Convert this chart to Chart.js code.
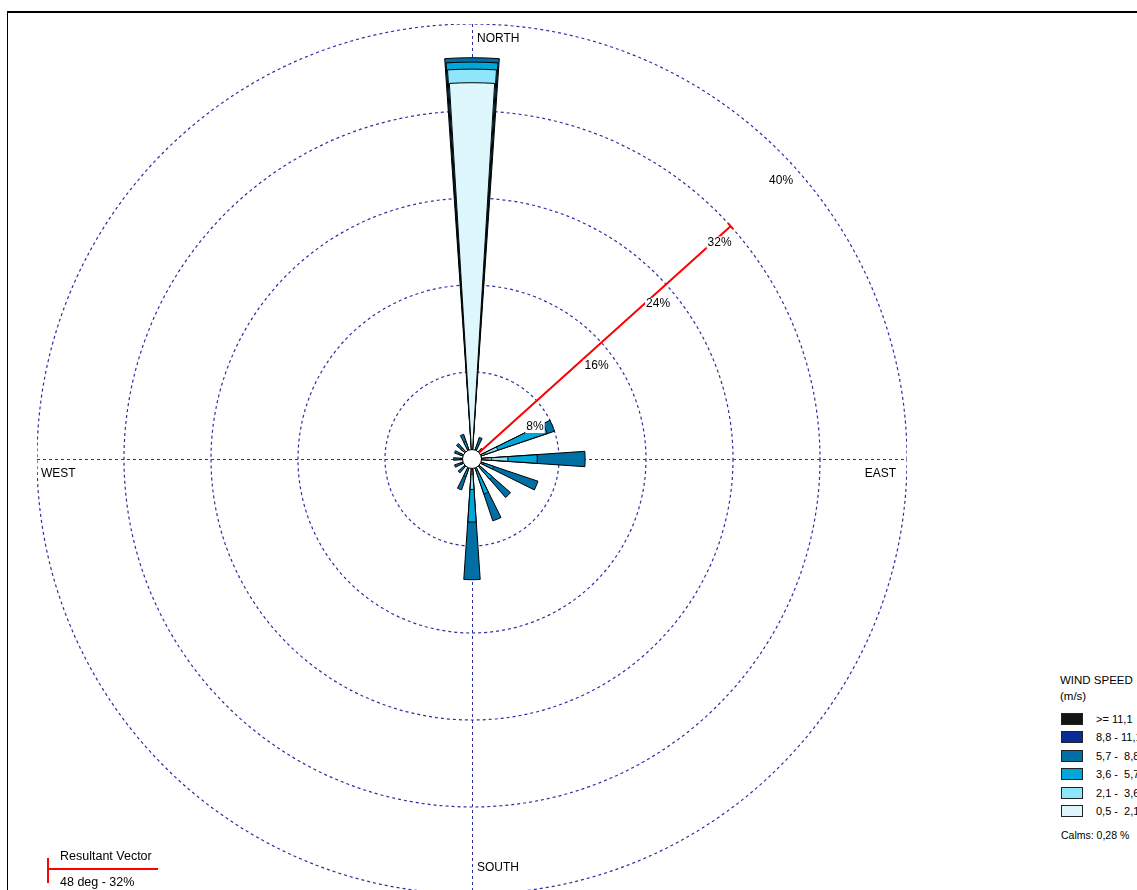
<!DOCTYPE html>
<html>
<head>
<meta charset="utf-8">
<title>Wind Rose</title>
<script src="https://cdn.jsdelivr.net/npm/chart.js"></script>
<style>
  html, body { margin: 0; padding: 0; }
  body { width: 1137px; height: 890px; overflow: hidden; background: #ffffff; position: relative;
         font-family: "Liberation Sans", Arial, sans-serif; color: #000; }
  .frame-top { position: absolute; left: 7px; top: 11px; width: 1130px; height: 2px; background: #000; }
  .frame-left { position: absolute; left: 7px; top: 11px; width: 1px; height: 879px; background: #000; }
  .rose-box { position: absolute; left: 37px; top: 24px; width: 870px; height: 870px; }
  .legend { position: absolute; left: 1060px; top: 673px; width: 77px; height: 175px; overflow: hidden; }
  .legend .title { position: absolute; left: 0; font-size: 11.5px; line-height: 14px; white-space: nowrap; }
  .legend .swatch { position: absolute; left: 1px; width: 20px; height: 10px; border: 1px solid #222; }
  .legend .entry { position: absolute; left: 36px; font-size: 11px; line-height: 12px; white-space: pre; }
  .legend .calms { position: absolute; left: 1px; font-size: 10.5px; line-height: 12px; white-space: nowrap; }
  .rv-v { position: absolute; left: 47px; top: 858px; width: 2px; height: 25px; background: #ff0000; }
  .rv-h { position: absolute; left: 47px; top: 868px; width: 111px; height: 2px; background: #ff0000; }
  .rv-text { position: absolute; left: 60px; font-size: 12.5px; line-height: 14px; white-space: nowrap; }
</style>
</head>
<body>
<div class="frame-top"></div>
<div class="frame-left"></div>
<div class="rose-box"><canvas id="rose" width="870" height="870"></canvas></div>
<div class="legend" id="legend"></div>
<div class="rv-v"></div>
<div class="rv-h"></div>
<div class="rv-text" id="rvTitle" style="top:849px;"></div>
<div class="rv-text" id="rvValue" style="top:875px;"></div>

<script>
// ---- data -------------------------------------------------------------
const directions = ['N', 'NNE', 'NE', 'ENE', 'E', 'ESE', 'SE', 'SSE',
                    'S', 'SSW', 'SW', 'WSW', 'W', 'WNW', 'NW', 'NNW'];
const speedClasses = ['0,5 -  2,1', '2,1 -  3,6', '3,6 -  5,7', '5,7 -  8,8', '8,8 - 11,1', '>= 11,1'];

// frequency (%) of each wind-speed class, per direction
const freq_05_21  = [34.6, 0.5, 0.4, 1.3, 1.8, 0.6, 0.5, 0.5, 1.4, 0.3, 0.3, 0.3, 0.4, 0.4, 0.4, 0.5];
const freq_21_36  = [1.25, 0.4, 0.3, 1.2, 1.5, 0.5, 0.5, 0.6, 1.4, 0.4, 0.3, 0.3, 0.3, 0.3, 0.4, 0.4];
const freq_36_57  = [0.65, 0.5, 0.3, 4.8, 2.7, 1.0, 1.5, 2.3, 3.0, 1.0, 0.4, 0.5, 0.4, 0.5, 0.6, 0.8];
const freq_57_88  = [0.4,  0.7, 0.3, 0.7, 4.4, 4.3, 2.2, 2.6, 5.3, 1.3, 0.7, 0.6, 0.6, 0.5, 0.5, 0.7];
const freq_88_111 = [0, 0, 0, 0, 0, 0, 0, 0, 0, 0, 0, 0, 0, 0, 0, 0];
const freq_ge111  = [0, 0, 0, 0, 0, 0, 0, 0, 0, 0, 0, 0, 0, 0, 0, 0];

const ringTicks = [8, 16, 24, 32, 40];
const resultantDeg = 48;
const resultantPct = 32;
const calmsText = '0,28 %';

// ---- styling ----------------------------------------------------------
const classFreqs  = [freq_05_21, freq_21_36, freq_36_57, freq_57_88, freq_88_111, freq_ge111];
const classColors = ['#def7fd', '#8fe6fb', '#00a8da', '#006fa3', '#0a2a95', '#141414'];
const classWidths = [6.9, 7.2, 7.5, 7.8, 8.1, 8.4];   // wedge angle in degrees
const GRID = '#2f2fa0';
const FONT = '"Liberation Sans", Arial, sans-serif';
const SECTOR = 360 / directions.length;

// slots: leading gap, then bar/gap pairs, the last gap closes the circle
const slotLabels = [''];
directions.forEach(d => { slotLabels.push(d); slotLabels.push(''); });
const lastSlot = slotLabels.length - 1;

function cumulative(k) {
  return directions.map((_, d) => classFreqs.slice(0, k + 1).reduce((s, f) => s + f[d], 0));
}

const datasets = classFreqs.map((freq, k) => {
  const cum = cumulative(k);
  const w = classWidths[k];
  const data = slotLabels.map((_, i) => {
    if (i % 2 === 0) return 0;
    const d = (i - 1) / 2;
    return freq[d] > 0 ? +cum[d].toFixed(3) : 0;
  });
  const angle = slotLabels.map((_, i) =>
    (i === 0 || i === lastSlot) ? SECTOR / 2 - w / 2 : (i % 2 ? w : SECTOR - w));
  return {
    label: speedClasses[k],
    data,
    angle,
    backgroundColor: classColors[k],
    borderColor: data.map(v => v > 0 ? '#000000' : 'rgba(0,0,0,0)'),
    borderWidth: data.map(v => v > 0 ? 1 : 0)
  };
});

// ---- decorations: axes, labels, resultant vector, calm circle ----------
const roseDecor = {
  id: 'roseDecor',
  beforeDatasetsDraw(chart) {
    const s = chart.scales.r, ctx = chart.ctx;
    const R = s.drawingArea, cx = s.xCenter, cy = s.yCenter;
    ctx.save();
    ctx.strokeStyle = GRID;
    ctx.lineWidth = 1;
    ctx.setLineDash([3, 3]);
    ctx.beginPath();
    ctx.moveTo(cx - R, cy + 0.5); ctx.lineTo(cx + R, cy + 0.5);
    ctx.moveTo(cx + 0.5, cy - R); ctx.lineTo(cx + 0.5, cy + R);
    ctx.stroke();
    ctx.restore();
  },
  afterDatasetsDraw(chart) {
    const s = chart.scales.r, ctx = chart.ctx;
    const R = s.drawingArea, cx = s.xCenter, cy = s.yCenter;

    // resultant vector
    const a = resultantDeg * Math.PI / 180;
    const len = s.getDistanceFromCenterForValue(resultantPct);
    const ex = cx + len * Math.sin(a), ey = cy - len * Math.cos(a);
    const px = Math.cos(a), py = Math.sin(a);
    ctx.save();
    ctx.strokeStyle = '#ff0000';
    ctx.lineWidth = 2;
    ctx.beginPath();
    ctx.moveTo(cx, cy); ctx.lineTo(ex, ey);
    ctx.moveTo(ex - 4 * px, ey - 4 * py); ctx.lineTo(ex + 4 * px, ey + 4 * py);
    ctx.stroke();
    ctx.restore();

    // calm circle
    ctx.save();
    ctx.beginPath();
    ctx.arc(cx, cy, 9.5, 0, Math.PI * 2);
    ctx.fillStyle = '#ffffff';
    ctx.fill();
    ctx.strokeStyle = '#000000';
    ctx.lineWidth = 1;
    ctx.stroke();
    ctx.restore();

    // ring percentages
    ctx.save();
    ctx.font = '12px ' + FONT;
    ctx.textAlign = 'center';
    ctx.textBaseline = 'middle';
    s.ticks.filter(t => t.value > 0).forEach(t => {
      const r = s.getDistanceFromCenterForValue(t.value);
      const x = cx + r * Math.SQRT1_2 + 1.5;
      const y = cy - r * Math.SQRT1_2 + 29.5;
      const txt = t.value + '%';
      const w = ctx.measureText(txt).width;
      ctx.fillStyle = '#ffffff';
      ctx.fillRect(x - w / 2 - 1, y - 6, w + 2, 12);
      ctx.fillStyle = '#000000';
      ctx.fillText(txt, x, y);
    });

    // compass points
    ctx.textAlign = 'left';
    ctx.fillText('NORTH', cx + 5, cy - R + 14.5);
    ctx.fillText('SOUTH', cx + 5, cy + R - 26);
    ctx.fillText('WEST', cx - R + 4, cy + 15);
    ctx.textAlign = 'right';
    ctx.fillText('EAST', cx + R - 11, cy + 15);
    ctx.restore();
  }
};

new Chart(document.getElementById('rose'), {
  type: 'polarArea',
  data: { labels: slotLabels, datasets },
  options: {
    responsive: false,
    maintainAspectRatio: false,
    animation: false,
    events: [],
    layout: { padding: 0 },
    plugins: { legend: { display: false }, tooltip: { enabled: false } },
    scales: {
      r: {
        min: 0,
        max: ringTicks[ringTicks.length - 1],
        startAngle: -SECTOR / 2,
        ticks: { display: false, stepSize: ringTicks[0] },
        grid: { circular: true, color: GRID, lineWidth: 1.2, borderDash: [3, 3] },
        border: { dash: [3, 3] },
        angleLines: { display: false },
        pointLabels: { display: false }
      }
    }
  },
  plugins: [roseDecor]
});

// ---- speed legend and resultant caption ---------------------------------
const legend = document.getElementById('legend');
function addDiv(cls, top, text, extra) {
  const el = document.createElement('div');
  el.className = cls;
  el.style.top = top + 'px';
  if (text !== undefined) el.textContent = text;
  if (extra) Object.assign(el.style, extra);
  legend.appendChild(el);
}
addDiv('title', 0, 'WIND SPEED');
addDiv('title', 16, '(m/s)');
const order = speedClasses.slice().reverse();
const colorsDesc = classColors.slice().reverse();
order.forEach((lbl, i) => {
  const top = 40 + i * 18.4;
  addDiv('swatch', top, undefined, { background: colorsDesc[i] });
  addDiv('entry', top, lbl);
});
addDiv('calms', 156, 'Calms: ' + calmsText);

document.getElementById('rvTitle').textContent = 'Resultant Vector';
document.getElementById('rvValue').textContent = resultantDeg + ' deg - ' + resultantPct + '%';
</script>
</body>
</html>
